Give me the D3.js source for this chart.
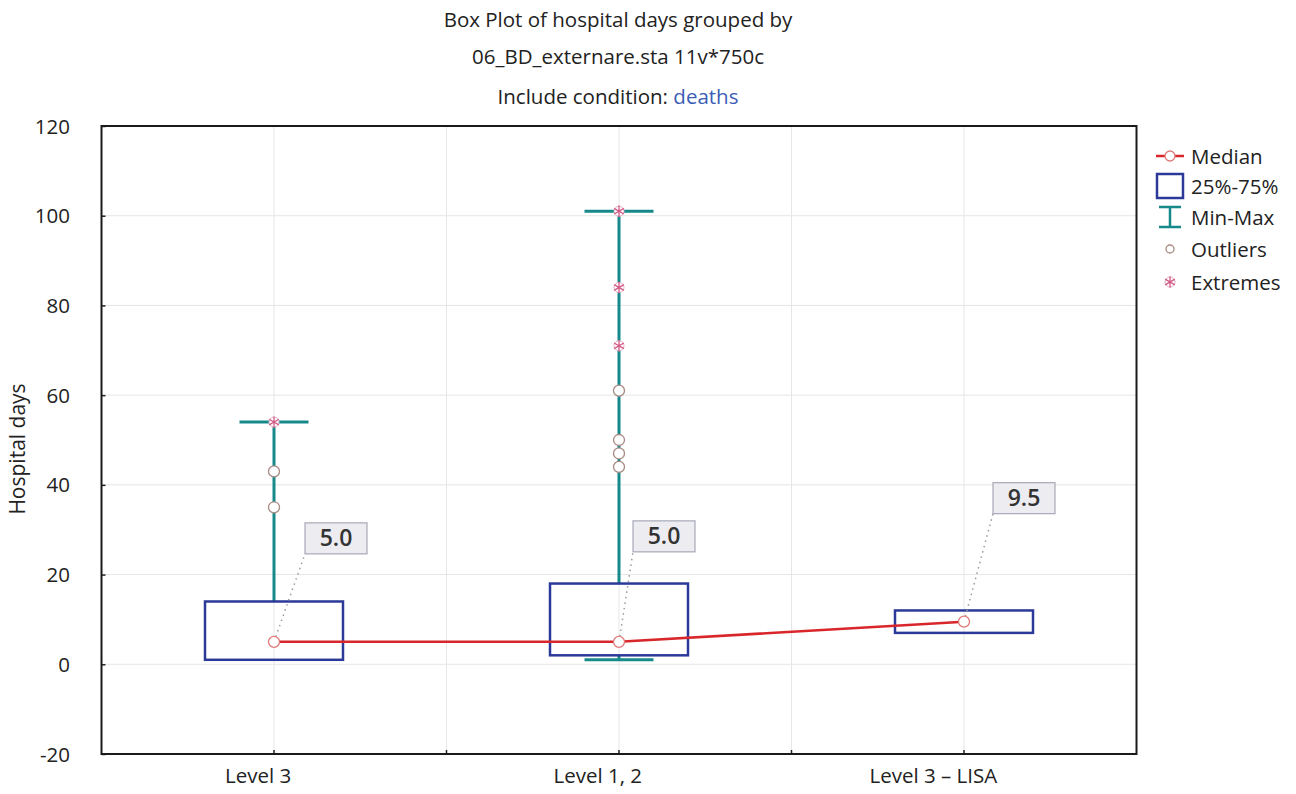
<!DOCTYPE html>
<html>
<head>
<meta charset="utf-8">
<script src="https://cdn.jsdelivr.net/npm/d3@7"></script>
<style>
  body { margin: 0; background: #fff; }
  svg text { font-family: "Open Sans", sans-serif; fill: #222; }
</style>
</head>
<body>
<div id="main"></div>
<script>
// values
var categories = ["Level 3", "Level 1, 2", "Level 3 \u2013 LISA"];
var medians = [5, 5, 9.5];
var q1 = [1, 2, 7];
var q3 = [14, 18, 12];
var mins = [1, 1, 7];
var maxs = [54, 101, 12];
var outliers = [[43, 35], [61, 50, 47, 44], []];
var extremes = [[54], [101, 84, 71], []];
var yTicks = [-20, 0, 20, 40, 60, 80, 100, 120];
var legendItems = ["Median", "25%-75%", "Min-Max", "Outliers", "Extremes"];

var ctx = {
    w: 1296,
    h: 794,
    left: 101.5, right: 1136.5, top: 126, bottom: 754,
    boxColor: "#2b3a98",
    whiskerColor: "#17898a",
    medianColor: "#d8262b",
    markerColor: "#e07a7a",
    outlierColor: "#a88a84",
    extremeColor: "#d25a86",
    gridColor: "#e6e6e6",
    fs: "20.5px"
};

var createViz = function(){
    var svg = d3.select("#main").append("svg")
      .attr("width", ctx.w).attr("height", ctx.h);

    ctx.xScale = d3.scaleBand().domain(categories)
                   .range([ctx.left, ctx.right]).padding(0);
    ctx.yScale = d3.scaleLinear().domain([-20, 120])
                   .range([ctx.bottom, ctx.top]);
    var bw = ctx.xScale.bandwidth();
    var cx = function(i){ return ctx.xScale(categories[i]) + bw/2; };

    // title
    var title = svg.append("g").attr("text-anchor", "middle")
      .style("font-size", ctx.fs);
    title.append("text").attr("x", 618).attr("y", 27).text("Box Plot of hospital days grouped by");
    title.append("text").attr("x", 618).attr("y", 64).text("06_BD_externare.sta 11v*750c");
    var t3 = title.append("text").attr("x", 618).attr("y", 104);
    t3.append("tspan").text("Include condition: ");
    t3.append("tspan").style("fill", "#3a5cb5").text("deaths");

    // grid
    var grid = svg.append("g");
    var xGrid = [];
    categories.forEach(function(c, i){
        xGrid.push(cx(i));
        if (i > 0) xGrid.push(ctx.xScale(c));
    });
    grid.selectAll("line.v").data(xGrid).enter().append("line")
      .attr("x1", function(d){ return d; }).attr("x2", function(d){ return d; })
      .attr("y1", ctx.top).attr("y2", ctx.bottom)
      .attr("stroke", ctx.gridColor);
    grid.selectAll("line.h").data(yTicks.slice(1, -1)).enter().append("line")
      .attr("y1", function(d){ return ctx.yScale(d); }).attr("y2", function(d){ return ctx.yScale(d); })
      .attr("x1", ctx.left).attr("x2", ctx.right)
      .attr("stroke", ctx.gridColor);

    // axes (ticks pointing inward)
    var yAxis = svg.append("g").attr("transform", `translate(${ctx.left},0)`)
      .call(d3.axisRight(ctx.yScale).tickValues(yTicks).tickSize(4).tickFormat(""));
    yAxis.select(".domain").remove();
    yAxis.selectAll("line").attr("stroke", "#222").attr("stroke-width", 1.5);
    svg.append("g").selectAll("text").data(yTicks).enter().append("text")
      .attr("x", 70).attr("y", function(d){ return ctx.yScale(d) + 7.5; })
      .attr("text-anchor", "end").style("font-size", ctx.fs)
      .text(function(d){ return d; });

    var xAxis = svg.append("g").attr("transform", `translate(0,${ctx.bottom})`);
    xAxis.selectAll("line").data(xGrid).enter().append("line")
      .attr("x1", function(d){ return d; }).attr("x2", function(d){ return d; })
      .attr("y1", 0).attr("y2", -4).attr("stroke", "#222").attr("stroke-width", 1.5);
    xAxis.selectAll("text").data(categories).enter().append("text")
      .attr("x", function(d, i){ return cx(i); }).attr("y", 29)
      .attr("text-anchor", "middle").style("font-size", ctx.fs)
      .text(function(d){ return d; })
      .attr("dx", function(){ return -0.24 * this.getComputedTextLength(); });

    svg.append("text")
      .attr("transform", `translate(25,449) rotate(-90)`)
      .attr("text-anchor", "middle").style("font-size", "21px")
      .text("Hospital days");

    // frame
    svg.append("rect").attr("x", ctx.left).attr("y", ctx.top)
      .attr("width", ctx.right-ctx.left).attr("height", ctx.bottom-ctx.top)
      .attr("fill", "none").attr("stroke", "#1a1a1a").attr("stroke-width", 2);

    var g = svg.append("g");
    var y = ctx.yScale;
    var capW = bw*0.2, boxW = bw*0.4;

    // whiskers
    categories.forEach(function(c, i){
        var x = cx(i);
        if (maxs[i] > q3[i]) {
            g.append("line").attr("x1", x).attr("x2", x)
              .attr("y1", y(q3[i])).attr("y2", y(maxs[i]))
              .attr("stroke", ctx.whiskerColor).attr("stroke-width", 3);
            g.append("line").attr("x1", x-capW/2).attr("x2", x+capW/2)
              .attr("y1", y(maxs[i])).attr("y2", y(maxs[i]))
              .attr("stroke", ctx.whiskerColor).attr("stroke-width", 3);
        }
        if (mins[i] < q1[i]) {
            g.append("line").attr("x1", x).attr("x2", x)
              .attr("y1", y(q1[i])).attr("y2", y(mins[i]))
              .attr("stroke", ctx.whiskerColor).attr("stroke-width", 3);
            g.append("line").attr("x1", x-capW/2).attr("x2", x+capW/2)
              .attr("y1", y(mins[i])).attr("y2", y(mins[i]))
              .attr("stroke", ctx.whiskerColor).attr("stroke-width", 3);
        }
    });

    // boxes
    g.selectAll("rect.box").data(categories).enter().append("rect")
      .attr("x", function(d, i){ return cx(i) - boxW/2; })
      .attr("y", function(d, i){ return y(q3[i]); })
      .attr("width", boxW)
      .attr("height", function(d, i){ return y(q1[i]) - y(q3[i]); })
      .attr("fill", "none").attr("stroke", ctx.boxColor).attr("stroke-width", 2.5);

    // value labels with dotted leaders
    var labelOff = [[31, -88], [14, -90], [29, -108]];
    categories.forEach(function(c, i){
        var x = cx(i), ym = y(medians[i]);
        var lx = x + labelOff[i][0], ly = ym + labelOff[i][1];
        g.append("line").attr("x1", x).attr("y1", ym).attr("x2", lx).attr("y2", ly)
          .attr("stroke", "#9a9a9a").attr("stroke-width", 1.5)
          .attr("stroke-dasharray", "1.5,4");
        g.append("rect").attr("x", lx).attr("y", ly - 31).attr("width", 62).attr("height", 31)
          .attr("fill", "#ececf1").attr("stroke", "#a8a8b8").attr("stroke-width", 1.2);
        g.append("text").attr("x", lx + 31).attr("y", ly - 7.5)
          .attr("text-anchor", "middle").style("font-size", "23px").style("font-weight", "600")
          .style("fill", "#333").text(d3.format(".1f")(medians[i]));
    });

    // median line
    var line = d3.line().x(function(d, i){ return cx(i); }).y(function(d){ return y(d); });
    g.append("path").attr("d", line(medians))
      .attr("fill", "none").attr("stroke", ctx.medianColor).attr("stroke-width", 2.5);
    g.selectAll("circle.med").data(medians).enter().append("circle")
      .attr("cx", function(d, i){ return cx(i); }).attr("cy", function(d){ return y(d); })
      .attr("r", 5.5).attr("fill", "#fff").attr("stroke", ctx.markerColor).attr("stroke-width", 1.3);

    // outliers
    outliers.forEach(function(list, i){
        g.selectAll(null).data(list).enter().append("circle")
          .attr("cx", cx(i)).attr("cy", function(d){ return y(d); })
          .attr("r", 5.5).attr("fill", "#fff")
          .attr("stroke", ctx.outlierColor).attr("stroke-width", 1.3);
    });

    // extremes
    var star = d3.symbol().type(d3.symbolAsterisk).size(90);
    var extremeMark = function(sel){
        sel.append("circle").attr("r", 5).attr("fill", "#fff")
          .attr("stroke", "#e6b0c4").attr("stroke-width", 1);
        sel.append("path").attr("d", star())
          .attr("fill", "none").attr("stroke", ctx.extremeColor).attr("stroke-width", 1.3);
    };
    extremes.forEach(function(list, i){
        g.selectAll(null).data(list).enter().append("g")
          .attr("transform", function(d){ return `translate(${cx(i)},${y(d)})`; })
          .call(extremeMark);
    });

    // legend
    var lg = svg.append("g").attr("transform", "translate(1152,0)");
    var ly0 = [156, 186, 217, 249, 282];
    legendItems.forEach(function(name, i){
        lg.append("text").attr("x", 39).attr("y", ly0[i] + 7.5)
          .style("font-size", ctx.fs).text(name);
    });
    lg.append("line").attr("x1", 4).attr("x2", 32).attr("y1", ly0[0]).attr("y2", ly0[0])
      .attr("stroke", ctx.medianColor).attr("stroke-width", 2.5);
    lg.append("circle").attr("cx", 18).attr("cy", ly0[0]).attr("r", 5)
      .attr("fill", "#fff").attr("stroke", ctx.markerColor).attr("stroke-width", 1.3);
    lg.append("rect").attr("x", 5).attr("y", ly0[1]-12).attr("width", 26).attr("height", 24)
      .attr("fill", "none").attr("stroke", ctx.boxColor).attr("stroke-width", 2.5);
    lg.append("path").attr("d", `M7,${ly0[2]-10}H29M18,${ly0[2]-10}V${ly0[2]+10}M7,${ly0[2]+10}H29`)
      .attr("fill", "none").attr("stroke", ctx.whiskerColor).attr("stroke-width", 2.5);
    lg.append("circle").attr("cx", 18).attr("cy", ly0[3]).attr("r", 4)
      .attr("fill", "#fff").attr("stroke", ctx.outlierColor).attr("stroke-width", 1.3);
    lg.append("g").attr("transform", `translate(18,${ly0[4]})`).call(extremeMark);
};

createViz();
</script>
</body>
</html>
